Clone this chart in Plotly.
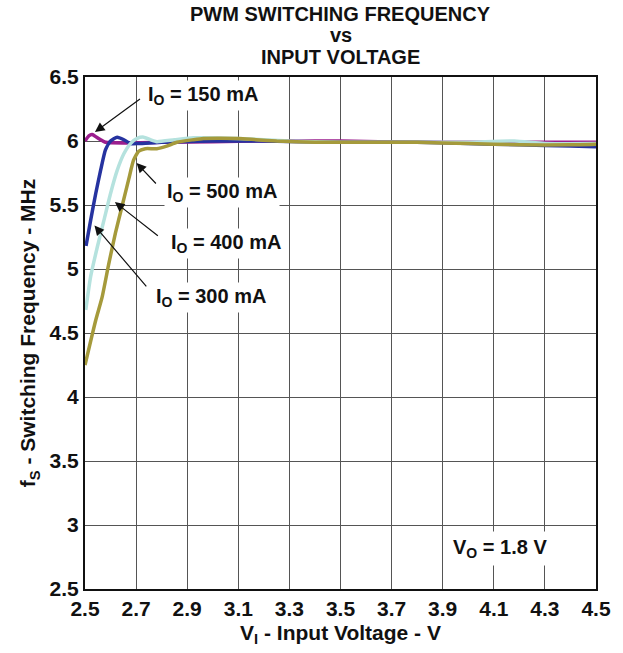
import plotly.graph_objects as go

# I_O = 150 mA
x_150 = [2.5, 2.515, 2.528, 2.545, 2.561, 2.58, 2.65, 2.8, 3.0, 3.2, 3.5, 3.8, 4.0, 4.2, 4.5]
y_150 = [6.0, 6.04, 6.05, 6.03, 6.01, 5.99, 5.985, 5.99, 5.995, 6.0, 6.0, 5.99, 5.99, 5.99, 5.99]

# I_O = 300 mA
x_300 = [2.504, 2.522, 2.542, 2.561, 2.58, 2.6, 2.626, 2.652, 2.678, 2.71, 2.8, 3.0, 3.2,
         3.5, 3.8, 4.0, 4.2, 4.4, 4.5]
y_300 = [5.18, 5.38, 5.59, 5.77, 5.93, 6.0, 6.03, 6.01, 5.98, 5.98, 5.99, 6.0, 6.0,
         5.99, 5.99, 5.98, 5.97, 5.96, 5.955]

# I_O = 400 mA
x_400 = [2.503, 2.522, 2.548, 2.574, 2.6, 2.626, 2.652, 2.678, 2.704, 2.73, 2.756, 2.781,
         2.85, 2.924, 3.1, 3.3, 3.5, 3.8, 4.0, 4.18, 4.3, 4.5]
y_400 = [4.68, 4.94, 5.17, 5.38, 5.59, 5.77, 5.9, 5.98, 6.02, 6.03, 6.01, 5.995,
         6.01, 6.025, 6.02, 6.0, 5.99, 5.99, 5.99, 6.0, 5.98, 5.98]

# I_O = 500 mA
x_500 = [2.5, 2.542, 2.567, 2.593, 2.619, 2.645, 2.671, 2.69, 2.71, 2.736, 2.781, 2.82,
         2.86, 2.924, 2.963, 3.1, 3.17, 3.25, 3.4, 3.6, 3.8, 4.0, 4.2, 4.4, 4.5]
y_500 = [4.25, 4.6, 4.78, 5.04, 5.28, 5.49, 5.70, 5.85, 5.92, 5.94, 5.94, 5.96,
         5.99, 6.01, 6.02, 6.02, 6.01, 6.0, 5.99, 5.99, 5.99, 5.98, 5.97, 5.97, 5.975]

x_ticks = [2.5, 2.7, 2.9, 3.1, 3.3, 3.5, 3.7, 3.9, 4.1, 4.3, 4.5]
y_ticks = [2.5, 3, 3.5, 4, 4.5, 5, 5.5, 6, 6.5]

series = [
    (x_150, y_150, '150 mA', '#9B1E8E'),
    (x_300, y_300, '300 mA', '#2633A0'),
    (x_400, y_400, '400 mA', '#B5E2DE'),
    (x_500, y_500, '500 mA', '#A59A3B'),
]

font_family = 'Liberation Sans, Arial, sans-serif'

fig = go.Figure()
for xs, ys, name, color in series:
    fig.add_trace(go.Scatter(
        x=xs, y=ys, name=name, mode='lines',
        line=dict(color=color, width=3.5, shape='spline', smoothing=0.5),
        showlegend=False
    ))

# labels: (text, text_x, text_y, head_x, head_y, tail_x, tail_y)
labels = [
    ('I<sub>O</sub> = 150 mA', 2.962, 6.359, 2.539, 6.070, 2.721, 6.336),
    ('I<sub>O</sub> = 500 mA', 3.036, 5.594, 2.702, 5.828, 2.783, 5.656),
    ('I<sub>O</sub> = 400 mA', 3.051, 5.203, 2.617, 5.523, 2.791, 5.250),
    ('I<sub>O</sub> = 300 mA', 2.993, 4.781, 2.537, 5.340, 2.745, 4.852),
]

annotations = []
for text, tx, ty, hx, hy, ax, ay in labels:
    annotations.append(dict(
        x=tx, y=ty, xref='x', yref='y', text=text, showarrow=False,
        bgcolor='white', borderpad=2,
        font=dict(family=font_family, size=20, color='#111', weight='bold')
    ))
    annotations.append(dict(
        x=hx, y=hy, xref='x', yref='y', ax=ax, ay=ay, axref='x', ayref='y',
        text='', showarrow=True, arrowhead=2, arrowsize=1.6, arrowwidth=1.2,
        arrowcolor='#111'
    ))
annotations.append(dict(
    x=4.123, y=2.82, xref='x', yref='y', text='V<sub>O</sub> = 1.8 V',
    showarrow=False, bgcolor='white', borderpad=4,
    font=dict(family=font_family, size=20, color='#111', weight='bold')
))

# three-line heading, placed line by line (tight spacing as in the original)
title_lines = [('PWM SWITCHING FREQUENCY', 1.1230), ('vs', 1.0811), ('INPUT VOLTAGE', 1.0381)]
for text, ypos in title_lines:
    annotations.append(dict(
        x=0.5, y=ypos, xref='paper', yref='paper', text=text, showarrow=False,
        xanchor='center', yanchor='middle',
        font=dict(family=font_family, size=20, color='#111', weight='bold')
    ))

fig.update_layout(
    width=623, height=653,
    margin=dict(l=85, r=23, t=77, b=64),
    paper_bgcolor='white', plot_bgcolor='white',
    font=dict(family=font_family, color='#111'),
    annotations=annotations,
)

fig.update_xaxes(
    range=[2.5, 4.5], tickvals=x_ticks, ticktext=[f'{v:.1f}' for v in x_ticks],
    showgrid=True, gridcolor='#555', gridwidth=1,
    showline=True, linecolor='#111', linewidth=2, mirror=True,
    zeroline=False, ticks='',
    tickfont=dict(size=21, family=font_family, weight='bold'),
    title=dict(text='V<sub>I</sub> - Input Voltage - V', standoff=6,
               font=dict(size=21, family=font_family, weight='bold'))
)
fig.update_yaxes(
    range=[2.5, 6.5], tickvals=y_ticks, ticktext=[f'{v:g}' for v in y_ticks],
    showgrid=True, gridcolor='#555', gridwidth=1,
    showline=True, linecolor='#111', linewidth=2, mirror=True,
    zeroline=False, ticks='',
    tickfont=dict(size=21, family=font_family, weight='bold'),
    title=dict(text='f<sub>S</sub> - Switching Frequency - MHz', standoff=8,
               font=dict(size=21, family=font_family, weight='bold'))
)

fig.write_html("out.html", config={'displayModeBar': False},
               post_script="document.body.style.margin = '0';")
